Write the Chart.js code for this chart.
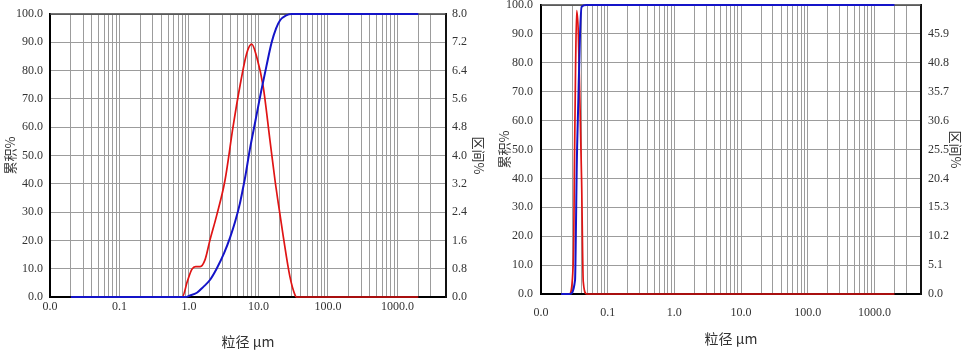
<!DOCTYPE html>
<html><head><meta charset="utf-8">
<script src="https://cdn.jsdelivr.net/npm/chart.js@4/dist/chart.umd.min.js"></script>
<style>
html,body{margin:0;padding:0;background:#fff;width:971px;height:355px;overflow:hidden}
.c{position:absolute;top:0}
canvas{display:block}
</style></head><body>
<div class="c" style="left:0"><canvas id="a" width="492" height="355"></canvas></div>
<div class="c" style="left:492px"><canvas id="b" width="479" height="355"></canvas></div>
<script>
// ---- axis definitions ----
const xMajorValues = [0.01, 0.1, 1, 10, 100, 1000];
const xMajorLabels = ['0.0', '0.1', '1.0', '10.0', '100.0', '1000.0'];
const xMinorSteps = [2, 3, 4, 5, 6, 7, 8, 9];
const xMin = 0.01, xMax = 5000, xGridTop = 3000;
const cumTicks = [0, 10, 20, 30, 40, 50, 60, 70, 80, 90, 100];
const distTicksA = [0, 0.8, 1.6, 2.4, 3.2, 4.0, 4.8, 5.6, 6.4, 7.2, 8.0];
const distTicksB = [0, 5.1, 10.2, 15.3, 20.4, 25.5, 30.6, 35.7, 40.8, 45.9];

// ---- left chart data ----
const sizeCumA = [0.02, 0.9, 1.0, 1.3, 1.6, 2.0, 2.5, 3.2, 3.9, 4.6, 5.4, 6.0, 6.4, 7.5, 9.0, 11, 13, 15.5, 18, 20.5, 25, 30, 2000];
const cumA     = [0, 0, 0.4, 1.5, 3.5, 6, 10, 15.5, 21, 26.5, 33, 38.5, 42, 52, 62, 73, 81.5, 90, 95, 97.8, 99.5, 100, 100];
const sizeDistA = [0.02, 0.8, 0.95, 1.1, 1.25, 1.45, 1.7, 2.0, 2.5, 3.3, 4.3, 5.4, 6.8, 8.0, 9.4, 11.7, 14.6, 17.3, 19.3, 22.8, 28.4, 33.5, 35, 2000];
const distA     = [0, 0, 0.45, 0.78, 0.86, 0.86, 1.05, 1.6, 2.3, 3.3, 4.8, 5.95, 6.9, 7.15, 6.8, 5.95, 4.45, 3.3, 2.65, 1.7, 0.57, 0.06, 0, 0];

// ---- right chart data ----
const sizeCumB = [0.02, 0.027, 0.0324, 0.0333, 0.0343, 0.0363, 0.0385, 0.0407, 0.048, 2000];
const cumB     = [0, 0, 4.8, 20, 43, 67, 90, 99.4, 100, 100];
const sizeDistB = [0.02, 0.0266, 0.0299, 0.031, 0.0316, 0.033, 0.0343, 0.0363, 0.038, 0.0407, 0.043, 0.0484, 2000];
const distB     = [0, 0, 3.5, 10, 21, 40, 50, 46, 36, 19.6, 2.2, 0, 0];

const BLUE = '#1414c8', RED = '#e01414', GRID = '#9c9c9c', TXT = '#333';
const tickFont = {family: "'Liberation Serif', serif", size: 12};
const titleFont = {family: "'Noto Sans CJK SC', sans-serif", size: 13};
const xTitleFont = {family: "'Noto Sans CJK SC', sans-serif", size: 14};

function buildXTicks() {
  const t = [];
  xMajorValues.forEach((d, i) => {
    t.push({value: d, lbl: xMajorLabels[i]});
    xMinorSteps.forEach(m => { const v = d * m; if (v <= xGridTop) t.push({value: v, lbl: ''}); });
  });
  return t;
}

const topBorder = {
  id: 'topBorder',
  beforeDatasetsDraw(c) {
    const a = c.chartArea, ctx = c.ctx;
    ctx.save(); ctx.strokeStyle = '#444'; ctx.lineWidth = 1.5;
    ctx.beginPath(); ctx.moveTo(a.left, a.top); ctx.lineTo(a.right, a.top); ctx.stroke();
    ctx.restore();
  }
};

function makeChart(id, o) {
  return new Chart(document.getElementById(id), {
    type: 'line',
    data: {datasets: [
      {label: '累积', data: o.cumX.map((x, i) => ({x, y: o.cumY[i]})), yAxisID: 'y',
       borderColor: BLUE, borderWidth: 2, pointRadius: 0, cubicInterpolationMode: 'monotone', clip: false},
      {label: '区间', data: o.distX.map((x, i) => ({x, y: o.distY[i]})), yAxisID: 'y1',
       borderColor: RED, borderWidth: 1.7, pointRadius: 0, cubicInterpolationMode: 'monotone', clip: false}
    ]},
    options: {
      responsive: false, animation: false, events: [],
      layout: {padding: o.pad},
      plugins: {legend: {display: false}, tooltip: {enabled: false}},
      scales: {
        x: {type: 'logarithmic', min: xMin, max: xMax,
            afterBuildTicks: s => { s.ticks = buildXTicks(); },
            afterFit: s => { s.height = o.xH; },
            ticks: {autoSkip: false, maxRotation: 0, minRotation: 0, padding: o.xPad, font: tickFont, color: TXT,
                    callback: (v, i, t) => t[i].lbl},
            grid: {color: GRID, lineWidth: 1, drawTicks: false},
            border: {display: true, color: '#000', width: 2},
            title: {display: true, text: '粒径 μm', font: xTitleFont, color: TXT, padding: {top: 0, bottom: o.xTitlePad}}},
        y: {position: 'left', min: 0, max: 100,
            afterBuildTicks: s => { s.ticks = cumTicks.map(v => ({value: v})); },
            afterFit: s => { s.width = o.yW; s.paddingTop = 0; s.paddingBottom = 0; },
            ticks: {padding: o.yPad, font: tickFont, color: TXT, callback: v => v.toFixed(1)},
            grid: {color: GRID, lineWidth: 1, drawTicks: false},
            border: {display: true, color: '#000', width: 2},
            title: {display: true, text: '累积%', font: titleFont, color: TXT, padding: {top: o.yTitlePad, bottom: 0}}},
        y1: {position: 'right', min: 0, max: o.distMax,
            afterBuildTicks: s => { s.ticks = o.distTicks.map(v => ({value: v})); },
            afterFit: s => { s.width = o.y1W; s.paddingTop = 0; s.paddingBottom = 0; },
            ticks: {padding: o.y1Pad, font: tickFont, color: TXT, callback: v => v.toFixed(1)},
            grid: {drawOnChartArea: false, drawTicks: false},
            border: {display: true, color: '#111', width: 2},
            title: {display: true, text: '区间%', font: titleFont, color: TXT, padding: {top: o.y1TitlePad, bottom: 0}}}
      }
    },
    plugins: [topBorder]
  });
}

makeChart('a', {
  cumX: sizeCumA, cumY: cumA, distX: sizeDistA, distY: distA,
  pad: {top: 14, left: 0, right: 2, bottom: 0},
  xH: 58, xPad: 3, xTitlePad: 4.6,
  yW: 50, yPad: 7, yTitlePad: 2,
  y1W: 44, y1Pad: 6, y1TitlePad: 3,
  distMax: 8, distTicks: distTicksA
});
makeChart('b', {
  cumX: sizeCumB, cumY: cumB, distX: sizeDistB, distY: distB,
  pad: {top: 5, left: 0, right: 0, bottom: 0},
  xH: 61, xPad: 12, xTitlePad: 8,
  yW: 49, yPad: 8, yTitlePad: 4,
  y1W: 50, y1Pad: 7, y1TitlePad: 7,
  distMax: 51, distTicks: distTicksB
});
</script>
</body></html>
